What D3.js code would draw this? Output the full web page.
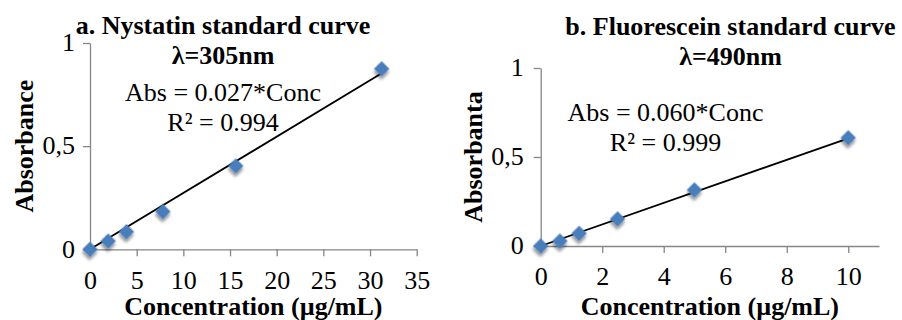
<!DOCTYPE html>
<html>
<head>
<meta charset="utf-8">
<script src="https://cdn.jsdelivr.net/npm/d3@7"></script>
<style>
  body { margin: 0; background: #fff; }
  svg text { font-family: "Liberation Serif", "Times New Roman", Times, serif !important; }
</style>
</head>
<body>
<div id="chart"></div>
<script>
// chart a: nystatin
var nysConc = [0, 1.953, 3.906, 7.8125, 15.625, 31.25];
var nysAbs = [0, 0.04, 0.085, 0.183, 0.404, 0.875];
var nysSlope = 0.0273;
var nysTitle = ["a. Nystatin standard curve", "λ=305nm"];
var nysEq = ["Abs = 0.027*Conc", "R² = 0.994"];
var nysXTicks = [0, 5, 10, 15, 20, 25, 30, 35];

// chart b: fluorescein
var fluConc = [0, 0.625, 1.25, 2.5, 5, 10];
var fluAbs = [0, 0.028, 0.071, 0.152, 0.315, 0.608];
var fluSlope = 0.0605;
var fluTitle = ["b. Fluorescein standard curve", "λ=490nm"];
var fluEq = ["Abs = 0.060*Conc", "R² = 0.999"];
var fluXTicks = [0, 2, 4, 6, 8, 10];

var yTicks = [0, 0.5, 1];
var xLabel = "Concentration (µg/mL)";

var width = 902, height = 320;
var fs = 26;
var axisColor = "#868686";
var markerColor = "#4a7ebb";

var fmt = d3.formatLocale({decimal: ",", thousands: ".", grouping: [3], currency: ["", ""]}).format("~g");

var svg = d3.select("#chart").append("svg")
  .attr("width", width)
  .attr("height", height);

var defs = svg.append("defs");
defs.append("filter")
  .attr("id", "shadow")
  .attr("x", "-50%").attr("y", "-50%")
  .attr("width", "200%").attr("height", "200%")
  .append("feDropShadow")
  .attr("dx", 2).attr("dy", 2.5)
  .attr("stdDeviation", 1.6)
  .attr("flood-color", "#000")
  .attr("flood-opacity", 0.45);

function drawChart(opt) {
  var x = d3.scaleLinear().domain(opt.xDomain).range(opt.xRange);
  var y = d3.scaleLinear().domain([0, 1]).range(opt.yRange);
  var g = svg.append("g");

  // x axis
  var xa = g.append("g")
    .attr("transform", "translate(0," + opt.yRange[0] + ")")
    .call(d3.axisBottom(x).tickValues(opt.xTicks).tickSize(7).tickSizeOuter(0).tickFormat(d3.format("d")));
  xa.select(".domain").attr("stroke", axisColor).attr("stroke-width", 1.3);
  xa.selectAll(".tick line").attr("stroke", axisColor).attr("stroke-width", 1.3);
  xa.selectAll(".tick text")
    .attr("y", 21).attr("dy", "0.71em")
    .attr("fill", "#000")
    .style("font-size", fs + "px");

  // y axis
  var ya = g.append("g")
    .attr("transform", "translate(" + opt.xRange[0] + ",0)")
    .call(d3.axisLeft(y).tickValues(yTicks).tickSize(7).tickSizeOuter(0).tickFormat(fmt));
  ya.select(".domain").attr("stroke", axisColor).attr("stroke-width", 1.3);
  ya.selectAll(".tick line").attr("stroke", axisColor).attr("stroke-width", 1.3);
  ya.selectAll(".tick text")
    .attr("x", -opt.yPad).attr("dy", "0.3em")
    .attr("fill", "#000")
    .style("font-size", fs + "px");

  // trend line
  var xMax = d3.max(opt.conc);
  g.append("line")
    .attr("x1", x(0)).attr("y1", y(0))
    .attr("x2", x(xMax)).attr("y2", y(opt.slope * xMax))
    .attr("stroke", "#000")
    .attr("stroke-width", 1.8);

  // markers
  var diamond = d3.symbol(d3.symbolSquare, 118);
  g.selectAll("path.pt")
    .data(opt.conc)
    .join("path")
    .attr("class", "pt")
    .attr("d", diamond)
    .attr("transform", function (d, i) {
      return "translate(" + x(d) + "," + y(opt.abs[i]) + ") rotate(45)";
    })
    .attr("fill", markerColor)
    .attr("filter", "url(#shadow)");

  // title
  g.selectAll("text.title")
    .data(opt.title)
    .join("text")
    .attr("class", "title")
    .attr("x", opt.titleX)
    .attr("y", function (d, i) { return opt.titleY + i * 30; })
    .attr("text-anchor", "middle")
    .attr("font-weight", "bold")
    .style("font-size", fs + "px")
    .text(function (d) { return d; });

  // equation
  g.selectAll("text.eq")
    .data(opt.eq)
    .join("text")
    .attr("class", "eq")
    .attr("x", opt.eqX)
    .attr("y", function (d, i) { return opt.eqY + i * 30; })
    .attr("text-anchor", "middle")
    .style("font-size", fs + "px")
    .text(function (d) { return d; });

  // axis titles
  g.append("text")
    .attr("x", (opt.xRange[0] + opt.xRange[1]) / 2)
    .attr("y", 315)
    .attr("text-anchor", "middle")
    .attr("font-weight", "bold")
    .style("font-size", fs + "px")
    .text(xLabel);

  g.append("text")
    .attr("transform", "translate(" + opt.yLabelX + "," + ((opt.yRange[0] + opt.yRange[1]) / 2) + ") rotate(-90)")
    .attr("text-anchor", "middle")
    .attr("font-weight", "bold")
    .style("font-size", fs + "px")
    .text(opt.yLabel);
}

drawChart({
  conc: nysConc, abs: nysAbs, slope: nysSlope,
  title: nysTitle, eq: nysEq, xTicks: nysXTicks,
  xDomain: [0, 35], xRange: [90, 416.7], yRange: [249.3, 43],
  titleX: 223, titleY: 34, eqX: 223, eqY: 101,
  yLabel: "Absorbance", yLabelX: 33, yPad: 15
});

drawChart({
  conc: fluConc, abs: fluAbs, slope: fluSlope,
  title: fluTitle, eq: fluEq, xTicks: fluXTicks,
  xDomain: [0, 11], xRange: [540.7, 879], yRange: [246, 68],
  titleX: 730.5, titleY: 35, eqX: 665.5, eqY: 121,
  yLabel: "Absorbanta", yLabelX: 482, yPad: 17
});
</script>
</body>
</html>
